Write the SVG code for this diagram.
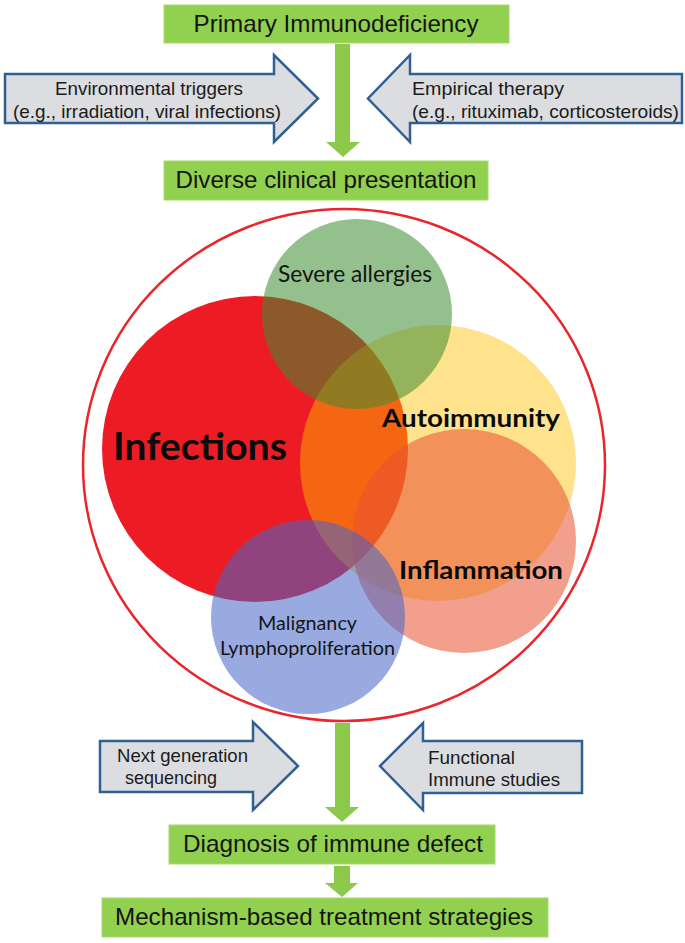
<svg xmlns="http://www.w3.org/2000/svg" width="685" height="943" viewBox="0 0 685 943">
<style>
.box{fill:#92d050;stroke:#a6da6c;stroke-width:1}
.garrow{fill:#8cc849}
.barrow{fill:#dcdde0;stroke:#2f5f93;stroke-width:2.5;stroke-linejoin:miter}
.bt{font-family:"Liberation Sans",Arial,sans-serif;font-size:24px;fill:#141414;text-anchor:middle}
.at{font-family:"Liberation Sans",Arial,sans-serif;font-size:19px;fill:#1a1a1a}
.at2{font-family:"Liberation Sans",Arial,sans-serif;font-size:18.5px;fill:#1a1a1a}
.vt{font-family:Lato,"Open Sans",sans-serif;fill:#141414;text-anchor:middle}
.vb{font-family:Lato,"Open Sans",sans-serif;font-weight:bold;fill:#0a0a0a;text-anchor:middle}
</style>
<rect width="685" height="943" fill="#ffffff"/>

<g id="connectors">
<polygon class="garrow" points="335,44 350,44 350,142 360,142 343,157 326,142 335,142"/>
<polygon class="garrow" points="335,723 350,723 350,807 359,807 342,822 325,807 335,807"/>
<polygon class="garrow" points="334,866 350,866 350,883 358,883 342,897 325,883 334,883"/>
</g>

<g id="primary">
<rect class="box" x="164" y="5" width="345" height="38"/>
<text class="bt" x="336" y="32" textLength="285" lengthAdjust="spacingAndGlyphs">Primary Immunodeficiency</text>
</g>

<g id="env-triggers">
<polygon class="barrow" points="5,74 274,74 274,55 318,98.5 274,142 274,123 5,123"/>
<text class="at" x="149" y="95" text-anchor="middle" textLength="188" lengthAdjust="spacingAndGlyphs">Environmental triggers</text>
<text class="at" x="147" y="118" text-anchor="middle" textLength="268" lengthAdjust="spacingAndGlyphs">(e.g., irradiation, viral infections)</text>
</g>

<g id="empirical">
<polygon class="barrow" points="682,74 410,74 410,55 368,98.5 410,142 410,123 682,123"/>
<text class="at" x="412" y="95" textLength="152" lengthAdjust="spacingAndGlyphs">Empirical therapy</text>
<text class="at" x="412" y="118" textLength="267" lengthAdjust="spacingAndGlyphs">(e.g., rituximab, corticosteroids)</text>
</g>

<g id="diverse">
<rect class="box" x="164" y="161" width="324" height="39"/>
<text class="bt" x="326" y="188" textLength="301" lengthAdjust="spacingAndGlyphs">Diverse clinical presentation</text>
</g>

<g id="clinical-spectrum">
<ellipse cx="344" cy="465" rx="261" ry="256" fill="none" stroke="#e8262c" stroke-width="2.5"/>
<g id="infections">
<circle cx="255" cy="449" r="153" fill="#ed1c24"/>
</g>
<g id="autoimmunity">
<circle cx="438" cy="463" r="138" fill="#ffc000" fill-opacity="0.45"/>
</g>
<g id="severe-allergies">
<circle cx="357" cy="314" r="95" fill="#3c8c32" fill-opacity="0.55"/>
</g>
<g id="inflammation">
<circle cx="464" cy="541" r="112" fill="#e85032" fill-opacity="0.55"/>
</g>
<g id="malignancy">
<circle cx="308" cy="617" r="97" fill="#4664c8" fill-opacity="0.55"/>
</g>
<text class="vt" x="355" y="282" font-size="23" textLength="154" lengthAdjust="spacingAndGlyphs">Severe allergies</text>
<text class="vb" x="200" y="460" font-size="38" textLength="174" lengthAdjust="spacingAndGlyphs">Infections</text>
<text class="vb" x="471" y="427" font-size="25" textLength="178" lengthAdjust="spacingAndGlyphs">Autoimmunity</text>
<text class="vb" x="481" y="579" font-size="25" textLength="164" lengthAdjust="spacingAndGlyphs">Inflammation</text>
<text class="vt" x="307.5" y="630" font-size="19" textLength="99" lengthAdjust="spacingAndGlyphs">Malignancy</text>
<text class="vt" x="307.5" y="655" font-size="19" textLength="175" lengthAdjust="spacingAndGlyphs">Lymphoproliferation</text>
</g>

<g id="ngs">
<polygon class="barrow" points="100,741 253,741 253,722 298,766 253,810 253,792 100,792"/>
<text class="at2" x="117" y="762" textLength="131" lengthAdjust="spacingAndGlyphs">Next generation</text>
<text class="at2" x="125" y="784" textLength="92" lengthAdjust="spacingAndGlyphs">sequencing</text>
</g>

<g id="functional">
<polygon class="barrow" points="582,741 423,741 423,723 380,766 423,810 423,793 582,793"/>
<text class="at2" x="428" y="764" textLength="87" lengthAdjust="spacingAndGlyphs">Functional</text>
<text class="at2" x="428" y="786" textLength="132" lengthAdjust="spacingAndGlyphs">Immune studies</text>
</g>

<g id="diagnosis">
<rect class="box" x="169" y="825" width="326" height="39"/>
<text class="bt" x="333" y="852" textLength="300" lengthAdjust="spacingAndGlyphs">Diagnosis of immune defect</text>
</g>

<g id="treatment">
<rect class="box" x="102" y="898" width="446" height="39"/>
<text class="bt" x="324" y="925" textLength="418" lengthAdjust="spacingAndGlyphs">Mechanism-based treatment strategies</text>
</g>
</svg>
